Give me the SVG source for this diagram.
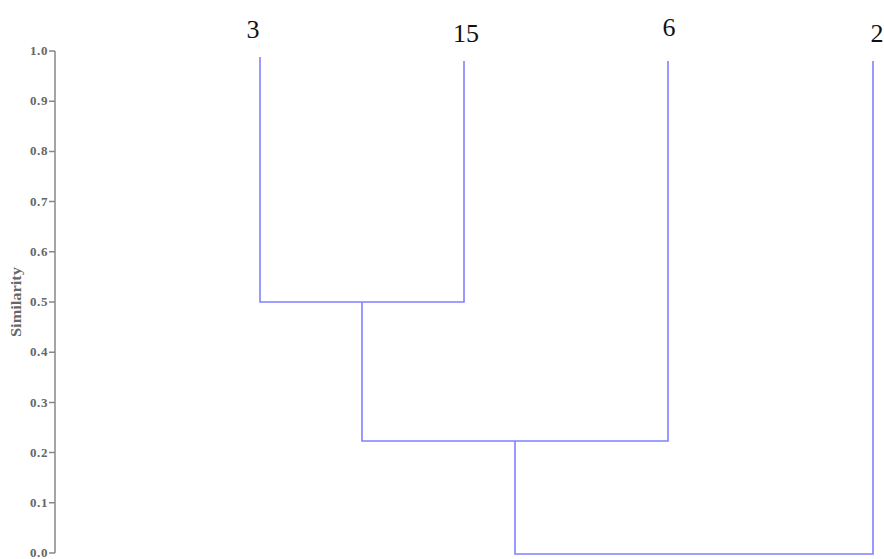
<svg xmlns="http://www.w3.org/2000/svg" width="884" height="559" viewBox="0 0 884 559">
<style>
.tk{font-family:"Liberation Serif",serif;font-size:13px;font-weight:bold;fill:#666;text-anchor:end;letter-spacing:0.6px}
.leaf{font-family:"Liberation Serif",serif;font-size:26px;fill:#111;text-anchor:middle}
.ax{stroke:#888;stroke-width:1.5;fill:none}
.br{stroke:#8080ff;stroke-width:1.6;fill:none}
</style>
<rect width="884" height="559" fill="#fff"/>
<g id="axis">
<path class="ax" d="M55,51V553M49,51H55M49,101.2H55M49,151.4H55M49,201.6H55M49,251.8H55M49,302H55M49,352.2H55M49,402.4H55M49,452.6H55M49,502.8H55M49,553H55"/>
<text class="tk" x="48" y="55">1.0</text>
<text class="tk" x="48" y="105">0.9</text>
<text class="tk" x="48" y="155">0.8</text>
<text class="tk" x="48" y="206">0.7</text>
<text class="tk" x="48" y="256">0.6</text>
<text class="tk" x="48" y="306">0.5</text>
<text class="tk" x="48" y="356">0.4</text>
<text class="tk" x="48" y="407">0.3</text>
<text class="tk" x="48" y="457">0.2</text>
<text class="tk" x="48" y="507">0.1</text>
<text class="tk" x="48" y="557">0.0</text>
<text x="21" y="302" transform="rotate(-90 21 302)" textLength="70" lengthAdjust="spacingAndGlyphs" style="font-family:'Liberation Serif',serif;font-size:14px;font-weight:bold;fill:#666;text-anchor:middle">Similarity</text>
</g>
<g id="leaf-3"><text class="leaf" x="253" y="38">3</text></g>
<g id="leaf-15"><text class="leaf" x="466" y="42">15</text></g>
<g id="leaf-6"><text class="leaf" x="669" y="36">6</text></g>
<g id="leaf-2"><text class="leaf" x="877" y="42">2</text></g>
<g id="connectors">
<path class="br" d="M260,57V302H464V61"/>
<path class="br" d="M362,302V441H668V61"/>
<path class="br" d="M515,441V554H873V61"/>
</g>
</svg>
